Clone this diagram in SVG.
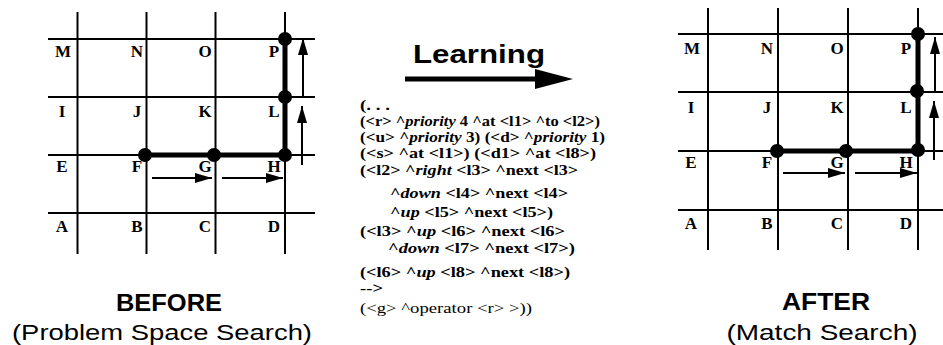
<svg xmlns="http://www.w3.org/2000/svg" width="943" height="345" viewBox="0 0 943 345">
<style>
.grid line{stroke:#000;stroke-width:2}
.lbl{font-family:"Liberation Serif","Times New Roman",serif;font-weight:bold;font-size:17px;text-anchor:middle;fill:#000}
.path{fill:none;stroke:#000;stroke-width:5;stroke-linejoin:round}
.dot{fill:#000}
.arr{stroke:#000;stroke-width:2;fill:none;marker-end:url(#ah)}
.code{font-family:"Liberation Serif","Times New Roman",serif;font-weight:bold;font-size:15px;fill:#000}
.code .i{font-style:italic}
.title{font-family:"Liberation Sans",Arial,sans-serif;font-weight:bold;font-size:23px;text-anchor:middle;fill:#000}
.sub{font-family:"Liberation Sans",Arial,sans-serif;font-size:22px;text-anchor:middle;fill:#000}
</style>
<defs>
<marker id="ah" viewBox="0 0 17 10" refX="17" refY="5" markerWidth="17" markerHeight="10" markerUnits="userSpaceOnUse" orient="auto">
<path d="M0,0 L17,5 L0,10 z" fill="#000"/>
</marker>
</defs>
<rect width="943" height="345" fill="#fff"/>

<g id="before-grid">
<g class="grid">
<line x1="77.5" y1="12" x2="77.5" y2="254"/>
<line x1="146.5" y1="12" x2="146.5" y2="254"/>
<line x1="215.5" y1="12" x2="215.5" y2="254"/>
<line x1="285" y1="12" x2="285" y2="254"/>
<line x1="48" y1="39" x2="315" y2="39"/>
<line x1="48" y1="97" x2="315" y2="97"/>
<line x1="48" y1="155" x2="315" y2="155"/>
<line x1="48" y1="213" x2="315" y2="213"/>
</g>
<g class="lbl-set">
<text class="lbl" x="63" y="57">M</text><text class="lbl" x="137" y="57">N</text><text class="lbl" x="205" y="57">O</text><text class="lbl" x="274" y="57">P</text>
<text class="lbl" x="62" y="117">I</text><text class="lbl" x="137" y="117">J</text><text class="lbl" x="205" y="117">K</text><text class="lbl" x="274" y="117">L</text>
<text class="lbl" x="62" y="172">E</text><text class="lbl" x="137" y="172">F</text><text class="lbl" x="205" y="172">G</text><text class="lbl" x="274" y="172">H</text>
<text class="lbl" x="62" y="232">A</text><text class="lbl" x="137" y="232">B</text><text class="lbl" x="205" y="232">C</text><text class="lbl" x="274" y="232">D</text>
</g>
<path class="path" d="M146.5,155 H285 V39"/>
<circle class="dot" cx="145" cy="155" r="7"/>
<circle class="dot" cx="214" cy="155" r="7"/>
<circle class="dot" cx="285" cy="155" r="7"/>
<circle class="dot" cx="285" cy="97" r="7"/>
<circle class="dot" cx="285" cy="39" r="7"/>
</g>

<g id="connectors">
<line class="arr" x1="303" y1="97" x2="303" y2="38"/>
<line class="arr" x1="302" y1="165" x2="302" y2="106"/>
<line class="arr" x1="152" y1="178" x2="212" y2="178"/>
<line class="arr" x1="222" y1="178" x2="283" y2="178"/>
<line class="arr" x1="935" y1="92" x2="935" y2="37"/>
<line class="arr" x1="934" y1="160" x2="934" y2="101"/>
<line class="arr" x1="783" y1="173" x2="845" y2="173"/>
<line class="arr" x1="855" y1="173" x2="917" y2="173"/>
</g>

<g id="after-grid">
<g class="grid">
<line x1="708" y1="8" x2="708" y2="250"/>
<line x1="778" y1="8" x2="778" y2="250"/>
<line x1="848" y1="8" x2="848" y2="250"/>
<line x1="918" y1="8" x2="918" y2="250"/>
<line x1="678" y1="34" x2="943" y2="34"/>
<line x1="678" y1="92" x2="943" y2="92"/>
<line x1="678" y1="151" x2="943" y2="151"/>
<line x1="678" y1="210" x2="943" y2="210"/>
</g>
<g class="lbl-set">
<text class="lbl" x="692" y="54">M</text><text class="lbl" x="767" y="54">N</text><text class="lbl" x="837" y="54">O</text><text class="lbl" x="906" y="54">P</text>
<text class="lbl" x="691" y="113">I</text><text class="lbl" x="767" y="113">J</text><text class="lbl" x="837" y="113">K</text><text class="lbl" x="906" y="113">L</text>
<text class="lbl" x="691" y="168">E</text><text class="lbl" x="767" y="168">F</text><text class="lbl" x="837" y="168">G</text><text class="lbl" x="906" y="168">H</text>
<text class="lbl" x="691" y="229">A</text><text class="lbl" x="767" y="229">B</text><text class="lbl" x="837" y="229">C</text><text class="lbl" x="906" y="229">D</text>
</g>
<path class="path" d="M778,151 H918 V34"/>
<circle class="dot" cx="777" cy="151" r="7"/>
<circle class="dot" cx="846" cy="151" r="7"/>
<circle class="dot" cx="918" cy="150" r="7"/>
<circle class="dot" cx="917" cy="91" r="7"/>
<circle class="dot" cx="918" cy="34" r="7"/>
</g>

<g id="learning">
<text x="479" y="63" font-family="'Liberation Sans',Arial,sans-serif" font-weight="bold" font-size="25" text-anchor="middle" textLength="132" lengthAdjust="spacingAndGlyphs">Learning</text>
<line x1="405" y1="79" x2="540" y2="79" stroke="#000" stroke-width="5"/>
<polygon points="535,69 573,79 535,89" fill="#000"/>
</g>

<g id="code" class="code">
<text x="360" y="110" textLength="30" lengthAdjust="spacingAndGlyphs">(. . .</text>
<text x="360" y="126" textLength="240" lengthAdjust="spacingAndGlyphs">(&lt;r&gt; ^<tspan class="i">priority</tspan> 4 ^at &lt;l1&gt; ^to &lt;l2&gt;)</text>
<text x="360" y="142" textLength="245" lengthAdjust="spacingAndGlyphs">(&lt;u&gt; ^<tspan class="i">priority</tspan> 3) (&lt;d&gt; ^<tspan class="i">priority</tspan> 1)</text>
<text x="360" y="158" textLength="236" lengthAdjust="spacingAndGlyphs">(&lt;s&gt; ^at &lt;l1&gt;) (&lt;d1&gt; ^at &lt;l8&gt;)</text>
<text x="360" y="175" textLength="218" lengthAdjust="spacingAndGlyphs">(&lt;l2&gt; ^<tspan class="i">right</tspan> &lt;l3&gt; ^next &lt;l3&gt;</text>
<text x="390" y="198" textLength="178" lengthAdjust="spacingAndGlyphs">^<tspan class="i">down</tspan> &lt;l4&gt; ^next &lt;l4&gt;</text>
<text x="390" y="217" textLength="163" lengthAdjust="spacingAndGlyphs">^<tspan class="i">up</tspan> &lt;l5&gt; ^next &lt;l5&gt;)</text>
<text x="360" y="236" textLength="205" lengthAdjust="spacingAndGlyphs">(&lt;l3&gt; ^<tspan class="i">up</tspan> &lt;l6&gt; ^next &lt;l6&gt;</text>
<text x="388" y="253" textLength="187" lengthAdjust="spacingAndGlyphs">^<tspan class="i">down</tspan> &lt;l7&gt; ^next &lt;l7&gt;)</text>
<text x="360" y="277" textLength="210" lengthAdjust="spacingAndGlyphs">(&lt;l6&gt; ^<tspan class="i">up</tspan> &lt;l8&gt; ^next &lt;l8&gt;)</text>
<text x="360" y="293" textLength="23" lengthAdjust="spacingAndGlyphs">--&gt;</text>
<text x="360" y="313" font-weight="normal" textLength="172" lengthAdjust="spacingAndGlyphs">(&lt;g&gt; ^operator &lt;r&gt; &gt;))</text>
</g>

<g id="captions">
<text class="title" x="169" y="311" textLength="106" lengthAdjust="spacingAndGlyphs">BEFORE</text>
<text class="sub" x="162" y="340" textLength="300" lengthAdjust="spacingAndGlyphs">(Problem Space Search)</text>
<text class="title" x="826" y="310" textLength="88" lengthAdjust="spacingAndGlyphs">AFTER</text>
<text class="sub" x="822" y="340" textLength="191" lengthAdjust="spacingAndGlyphs">(Match Search)</text>
</g>
</svg>
